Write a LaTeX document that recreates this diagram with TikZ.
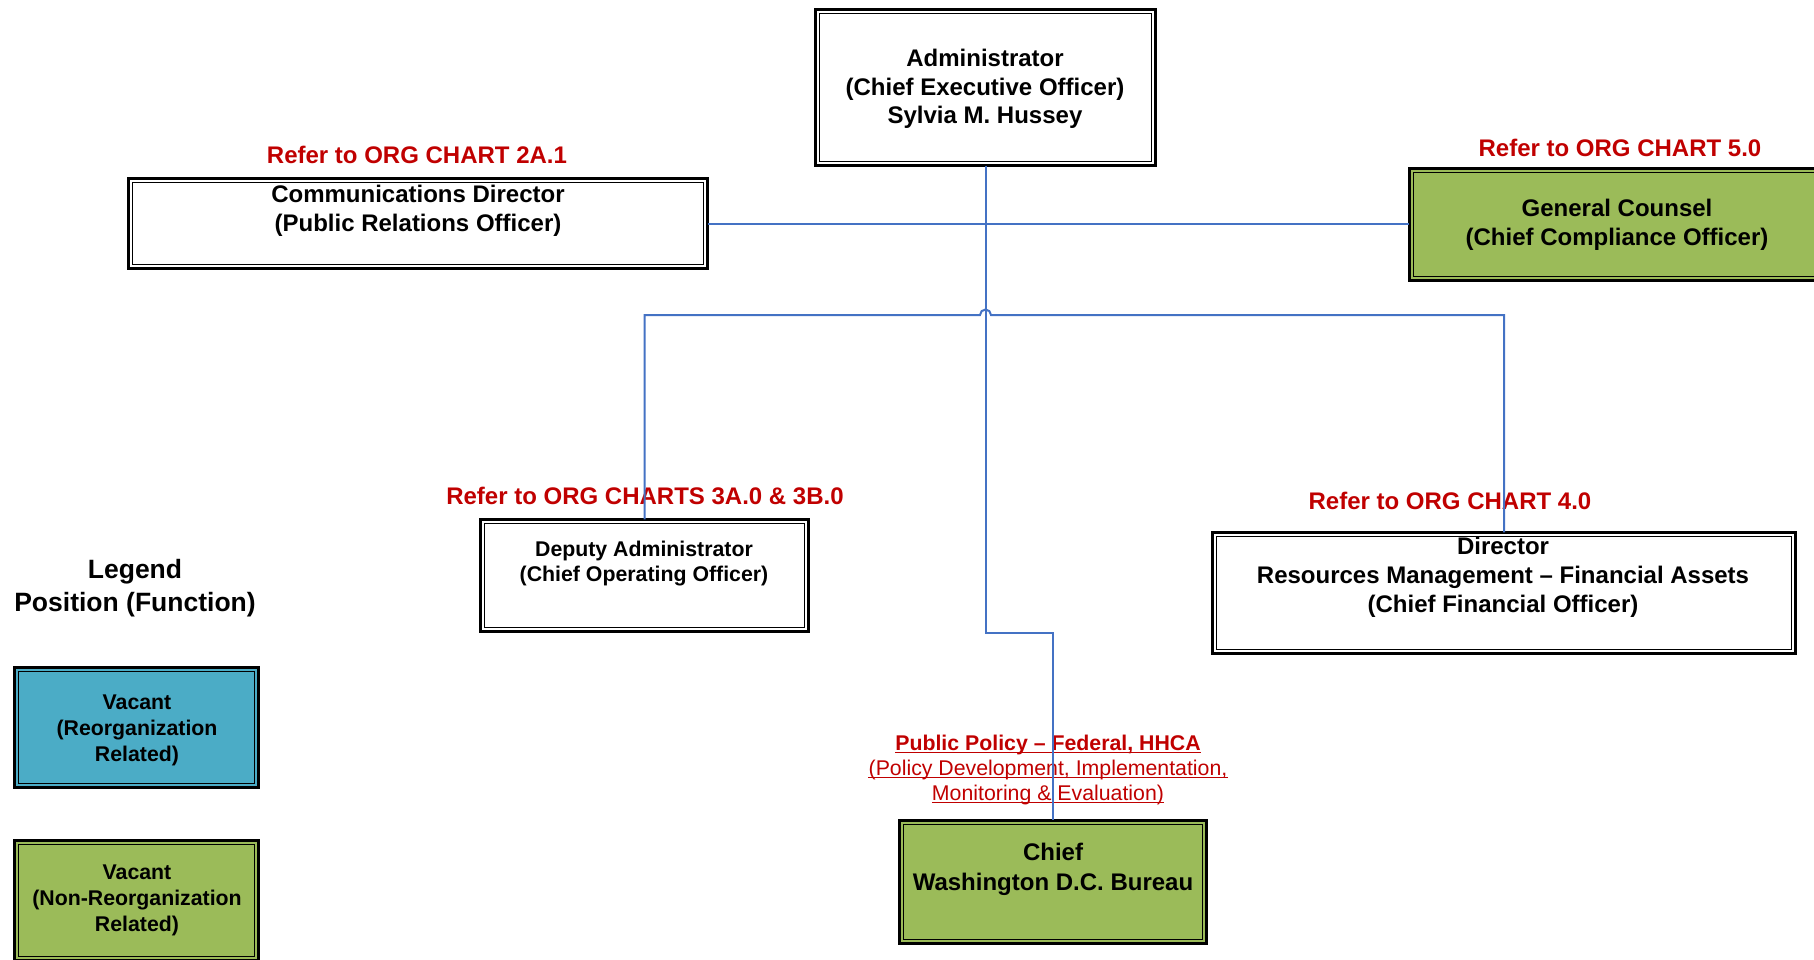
\documentclass[tikz,border=0pt]{standalone}
\usepackage{fontspec}
\setmainfont{Liberation Sans}
\definecolor{refred}{HTML}{C00000}
\definecolor{linkblue}{HTML}{4472C4}
\definecolor{vacgreen}{HTML}{9BBB59}
\definecolor{vacaqua}{HTML}{4BACC6}
\begin{document}
\begin{tikzpicture}[x=1pt,y=-1pt,
  orgbox/.style={draw=black, line width=2.6pt, outer sep=0pt, inner sep=0pt},
  innerframe/.style={draw=black, line width=1.4pt},
  conn/.style={draw=linkblue, line width=2pt},
  bigtext/.style={font=\fontsize{24}{29}\selectfont\bfseries, align=center, inner sep=0pt},
  smalltext/.style={font=\fontsize{21.3}{25.5}\selectfont\bfseries, align=center, inner sep=0pt},
  reflabel/.style={bigtext, text=refred},
  policyline/.style={font=\fontsize{21.3}{25}\selectfont, text=refred, inner sep=0pt, anchor=base},
  underline/.style={draw=refred, line width=1.3pt},
]
\useasboundingbox (0,0) rectangle (1814,959);

% position boxes
\node[orgbox, fill=white, minimum width=340.4pt, minimum height=156.4pt] (adm) at (985.5,87.5) {};
\node[orgbox, fill=white, minimum width=579.4pt, minimum height=90.4pt] (com) at (418,223.5) {};
\node[orgbox, fill=vacgreen, minimum width=609.4pt, minimum height=112.4pt] (gc) at (1714,224.5) {};
\node[orgbox, fill=white, minimum width=328.4pt, minimum height=112.4pt] (dep) at (644.5,575.5) {};
\node[orgbox, fill=white, minimum width=583.4pt, minimum height=121.4pt] (cfo) at (1504,593) {};
\node[orgbox, fill=vacgreen, minimum width=307.4pt, minimum height=123.4pt] (chief) at (1053,882) {};
\node[orgbox, fill=vacaqua, minimum width=244.4pt, minimum height=120.4pt] (leg1) at (136.5,727.5) {};
\node[orgbox, fill=vacgreen, minimum width=244.4pt, minimum height=120.4pt] (leg2) at (136.5,900.5) {};

% thin inner line of each double frame
\foreach \n in {adm,com,gc,dep,cfo,chief,leg1,leg2}
  \draw[innerframe] ([shift={(4.4,4.4)}]\n.north west) rectangle ([shift={(-4.4,-4.4)}]\n.south east);

% box texts
\node[bigtext, font=\fontsize{24}{28.5}\selectfont\bfseries] (admtxt) at (985,89) {Administrator\\(Chief Executive Officer)\\Sylvia M. Hussey};
\node[bigtext] (comtxt) at (418,210.5) {Communications Director\\(Public Relations Officer)};
\node[bigtext, font=\fontsize{24}{28.5}\selectfont\bfseries] (gctxt) at (1617,225) {General Counsel\\(Chief Compliance Officer)};
\node[smalltext, font=\fontsize{21.3}{25}\selectfont\bfseries] (deptxt) at (644,564) {Deputy Administrator\\(Chief Operating Officer)};
\node[bigtext] (cfotxt) at (1503,577.5) {Director\\Resources Management – Financial Assets\\(Chief Financial Officer)};
\node[bigtext, font=\fontsize{24}{30}\selectfont\bfseries] (chieftxt) at (1053,869.5) {Chief\\Washington D.C. Bureau};

% legend
\node[bigtext, font=\fontsize{26.5}{32.7}\selectfont\bfseries] (legtitle) at (135,588) {Legend\\Position (Function)};
\node[smalltext, font=\fontsize{21.3}{26}\selectfont\bfseries] (leg1txt) at (137,730) {Vacant\\(Reorganization\\Related)};
\node[smalltext, font=\fontsize{21.3}{26}\selectfont\bfseries] (leg2txt) at (137,900.7) {Vacant\\(Non-Reorganization\\Related)};

% references to other charts
\node[reflabel] (ref2a) at (417,155) {Refer to ORG CHART 2A.1};
\node[reflabel] (ref5) at (1620,148) {Refer to ORG CHART 5.0};
\node[reflabel] (ref3) at (645,495.5) {Refer to ORG CHARTS 3A.0 \& 3B.0};
\node[reflabel] (ref4) at (1450,501) {Refer to ORG CHART 4.0};

% underlined policy caption above the bureau
\node[policyline, font=\fontsize{21.3}{25}\selectfont\bfseries] (pol1) at (1048,750) {Public Policy – Federal, HHCA};
\node[policyline] (pol2) at (1048,775) {(Policy Development, Implementation,};
\node[policyline] (pol3) at (1048,800) {Monitoring \& Evaluation)};
\foreach \p in {pol1,pol2,pol3}
  \draw[underline] ([shift={(0,2.6)}]\p.base west) -- ([shift={(0,2.6)}]\p.base east);

% connectors
\coordinate (jog) at (985.5,633);
\coordinate (hop) at (985.5,315);
\draw[conn] (com.east) -- (com.east -| gc.west);
\draw[conn] (adm.south) -- (jog) -| (chief.north);
\draw[conn] (dep.north) |- ([xshift=-5.5pt]hop) arc[start angle=180, end angle=0, radius=5.5pt] -| (cfo.north);
\end{tikzpicture}
\end{document}
